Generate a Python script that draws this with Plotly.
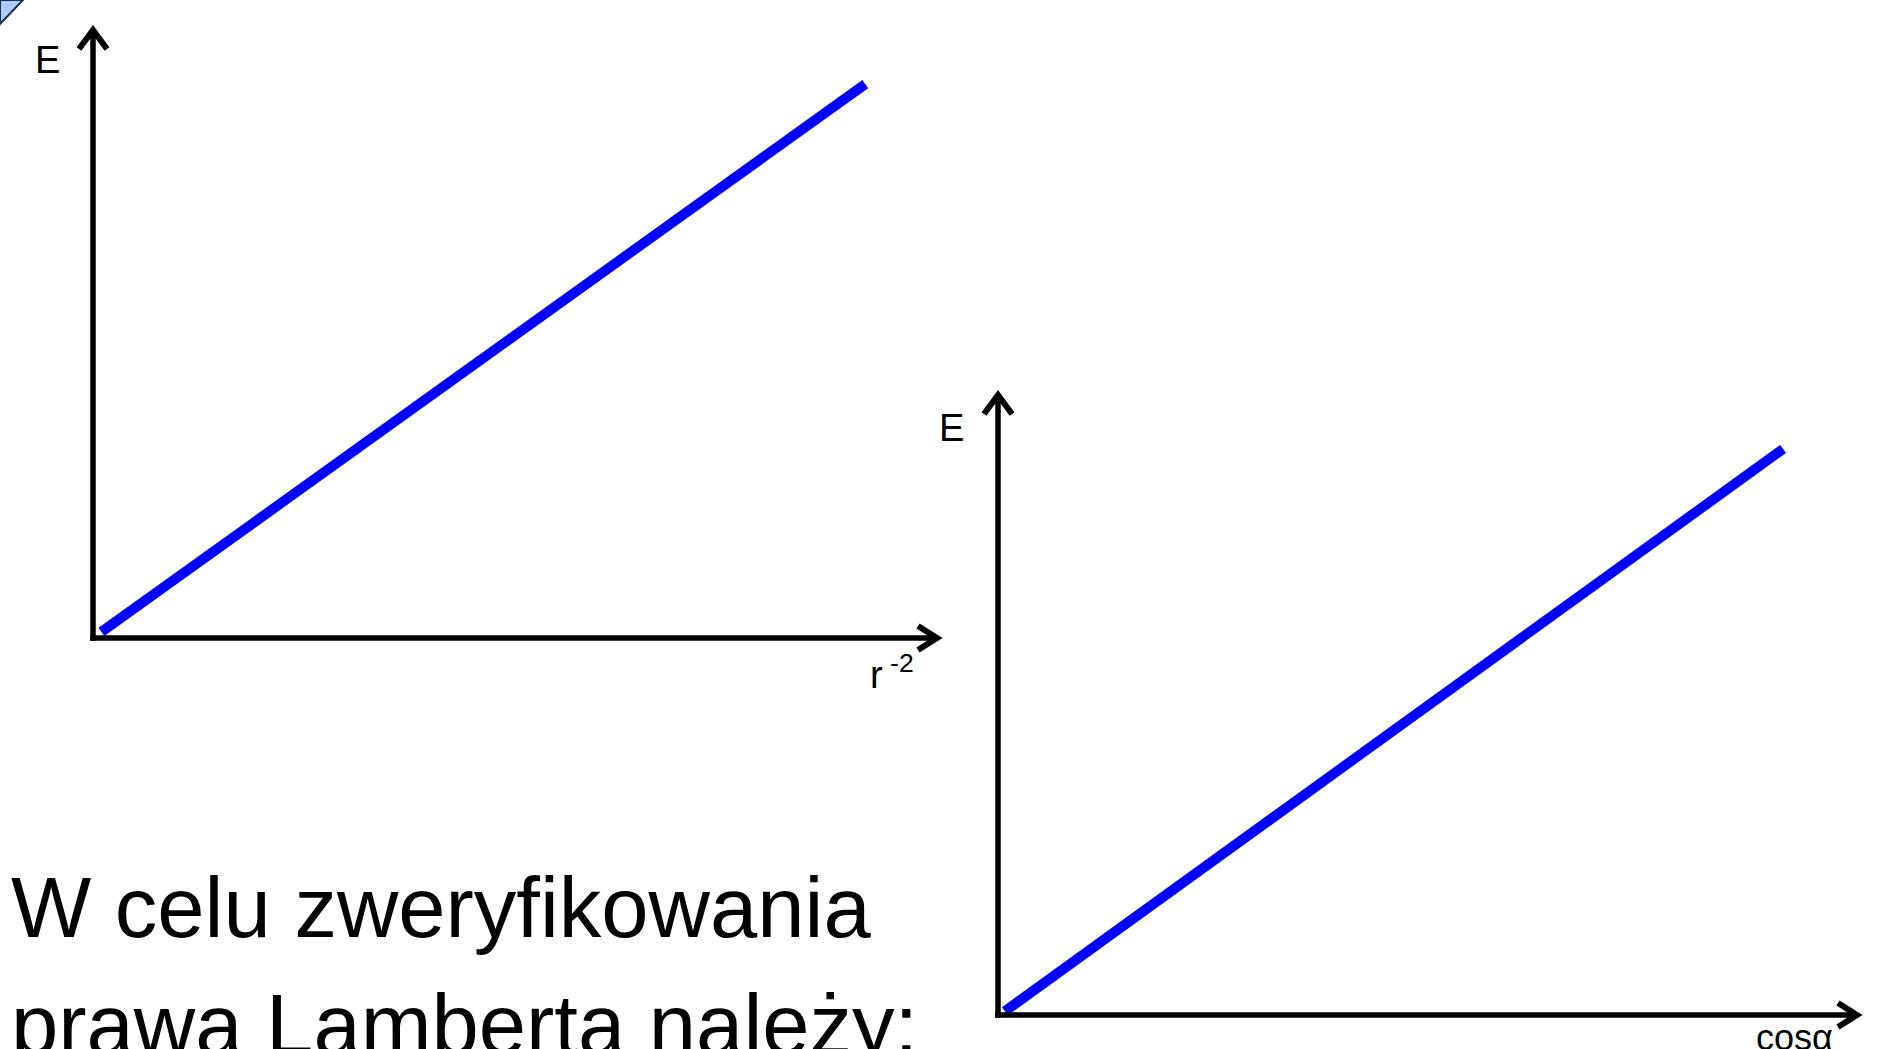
import plotly.graph_objects as go

W, H = 1878, 1049

# data (normalised axis units)
r_inv2 = [0.01, 0.915]
E_r = [0.01, 0.911]
cos_alpha = [0.008, 0.914]
E_cos = [0.006, 0.913]

x_title_left = "r<sup> -2</sup>"
x_title_right = "cosα"
y_title = "E"
body_lines = ["W celu zweryfikowania", "prawa Lamberta należy:"]

BLUE = "#0000ff"
FONT = "Liberation Sans, Arial, sans-serif"
PAD = 18  # extra pixels around each axis box so the lines are not clipped


def px(x):
    return x / W


def py(y):
    return 1 - y / H


# axis boxes in pixels: origin x, origin y, x-arrow tip, y-arrow tip
boxes = [(93, 638, 937, 30), (998, 1015, 1857, 395)]

fig = go.Figure()
fig.add_trace(go.Scatter(x=r_inv2, y=E_r, mode="lines",
                         line=dict(color=BLUE, width=10), xaxis="x", yaxis="y",
                         hoverinfo="skip"))
fig.add_trace(go.Scatter(x=cos_alpha, y=E_cos, mode="lines",
                         line=dict(color=BLUE, width=10), xaxis="x2", yaxis="y2",
                         hoverinfo="skip"))

ax_common = dict(showgrid=False, zeroline=False, showticklabels=False,
                 ticks="", showline=False, fixedrange=True)

axes = {}
for i, (ox, oy, xt, yt) in enumerate(boxes):
    sx = "" if i == 0 else str(i + 1)
    wx, hy = xt - ox, oy - yt
    x_lo, x_hi = max(0, ox - PAD), min(W, xt + PAD)
    y_lo, y_hi = max(0, yt - PAD), min(H, oy + PAD)  # pixel top / bottom
    axes["xaxis" + sx] = dict(domain=[px(x_lo), px(x_hi)], anchor="y" + sx,
                              range=[(x_lo - ox) / wx, (x_hi - ox) / wx], **ax_common)
    axes["yaxis" + sx] = dict(domain=[py(y_hi), py(y_lo)], anchor="x" + sx,
                              range=[(oy - y_hi) / hy, (oy - y_lo) / hy], **ax_common)

fig.update_layout(
    width=W, height=H,
    margin=dict(l=0, r=0, t=0, b=0),
    paper_bgcolor="white", plot_bgcolor="rgba(0,0,0,0)",
    showlegend=False,
    **axes,
)

LW = 5.5
shapes = []
for ox, oy, xt, yt in boxes:
    # axis lines
    shapes.append(dict(type="line", xref="paper", yref="paper",
                       x0=px(ox - LW / 2), y0=py(oy), x1=px(xt), y1=py(oy),
                       line=dict(color="black", width=LW)))
    shapes.append(dict(type="line", xref="paper", yref="paper",
                       x0=px(ox), y0=py(oy + LW / 2), x1=px(ox), y1=py(yt),
                       line=dict(color="black", width=LW)))
    # arrow heads (pixel sized chevrons)
    shapes.append(dict(type="path", xref="paper", yref="paper",
                       xsizemode="pixel", ysizemode="pixel",
                       xanchor=px(xt), yanchor=py(oy), path="M -19,12 L 0,0 L -19,-12",
                       line=dict(color="black", width=6)))
    shapes.append(dict(type="path", xref="paper", yref="paper",
                       xsizemode="pixel", ysizemode="pixel",
                       xanchor=px(ox), yanchor=py(yt), path="M -14,-19 L 0,0 L 14,-19",
                       line=dict(color="black", width=6)))

# slide corner decoration
shapes.append(dict(type="path", xref="paper", yref="paper",
                   path=f"M 0,1 L {px(23)},1 L 0,{py(24)} Z",
                   fillcolor="#a9cdf6", line=dict(color="#1d2f4f", width=2)))
fig.update_layout(shapes=shapes)

ann = []
ann.append(dict(text=y_title, x=px(33), y=py(37), xref="paper", yref="paper",
                xanchor="left", yanchor="top", showarrow=False,
                font=dict(family=FONT, size=38, color="black")))
ann.append(dict(text=y_title, x=px(937), y=py(405), xref="paper", yref="paper",
                xanchor="left", yanchor="top", showarrow=False,
                font=dict(family=FONT, size=38, color="black")))
ann.append(dict(text=x_title_left, x=px(868), y=py(698), xref="paper", yref="paper",
                xanchor="left", yanchor="bottom", showarrow=False,
                font=dict(family=FONT, size=38, color="black")))
ann.append(dict(text=x_title_right, x=px(1754), y=py(1015), xref="paper", yref="paper",
                xanchor="left", yanchor="top", showarrow=False,
                font=dict(family=FONT, size=36, color="black")))
ann.append(dict(text=body_lines[0], x=px(9), y=py(858), xref="paper", yref="paper",
                xanchor="left", yanchor="top", showarrow=False,
                font=dict(family=FONT, size=85, color="black")))
ann.append(dict(text=body_lines[1], x=px(9), y=py(975), xref="paper", yref="paper",
                xanchor="left", yanchor="top", showarrow=False,
                font=dict(family=FONT, size=85, color="black")))
fig.update_layout(annotations=ann)

fig.write_html("out.html", config={"displayModeBar": False},
               post_script="document.body.style.margin='0';document.body.style.overflow='hidden';")
